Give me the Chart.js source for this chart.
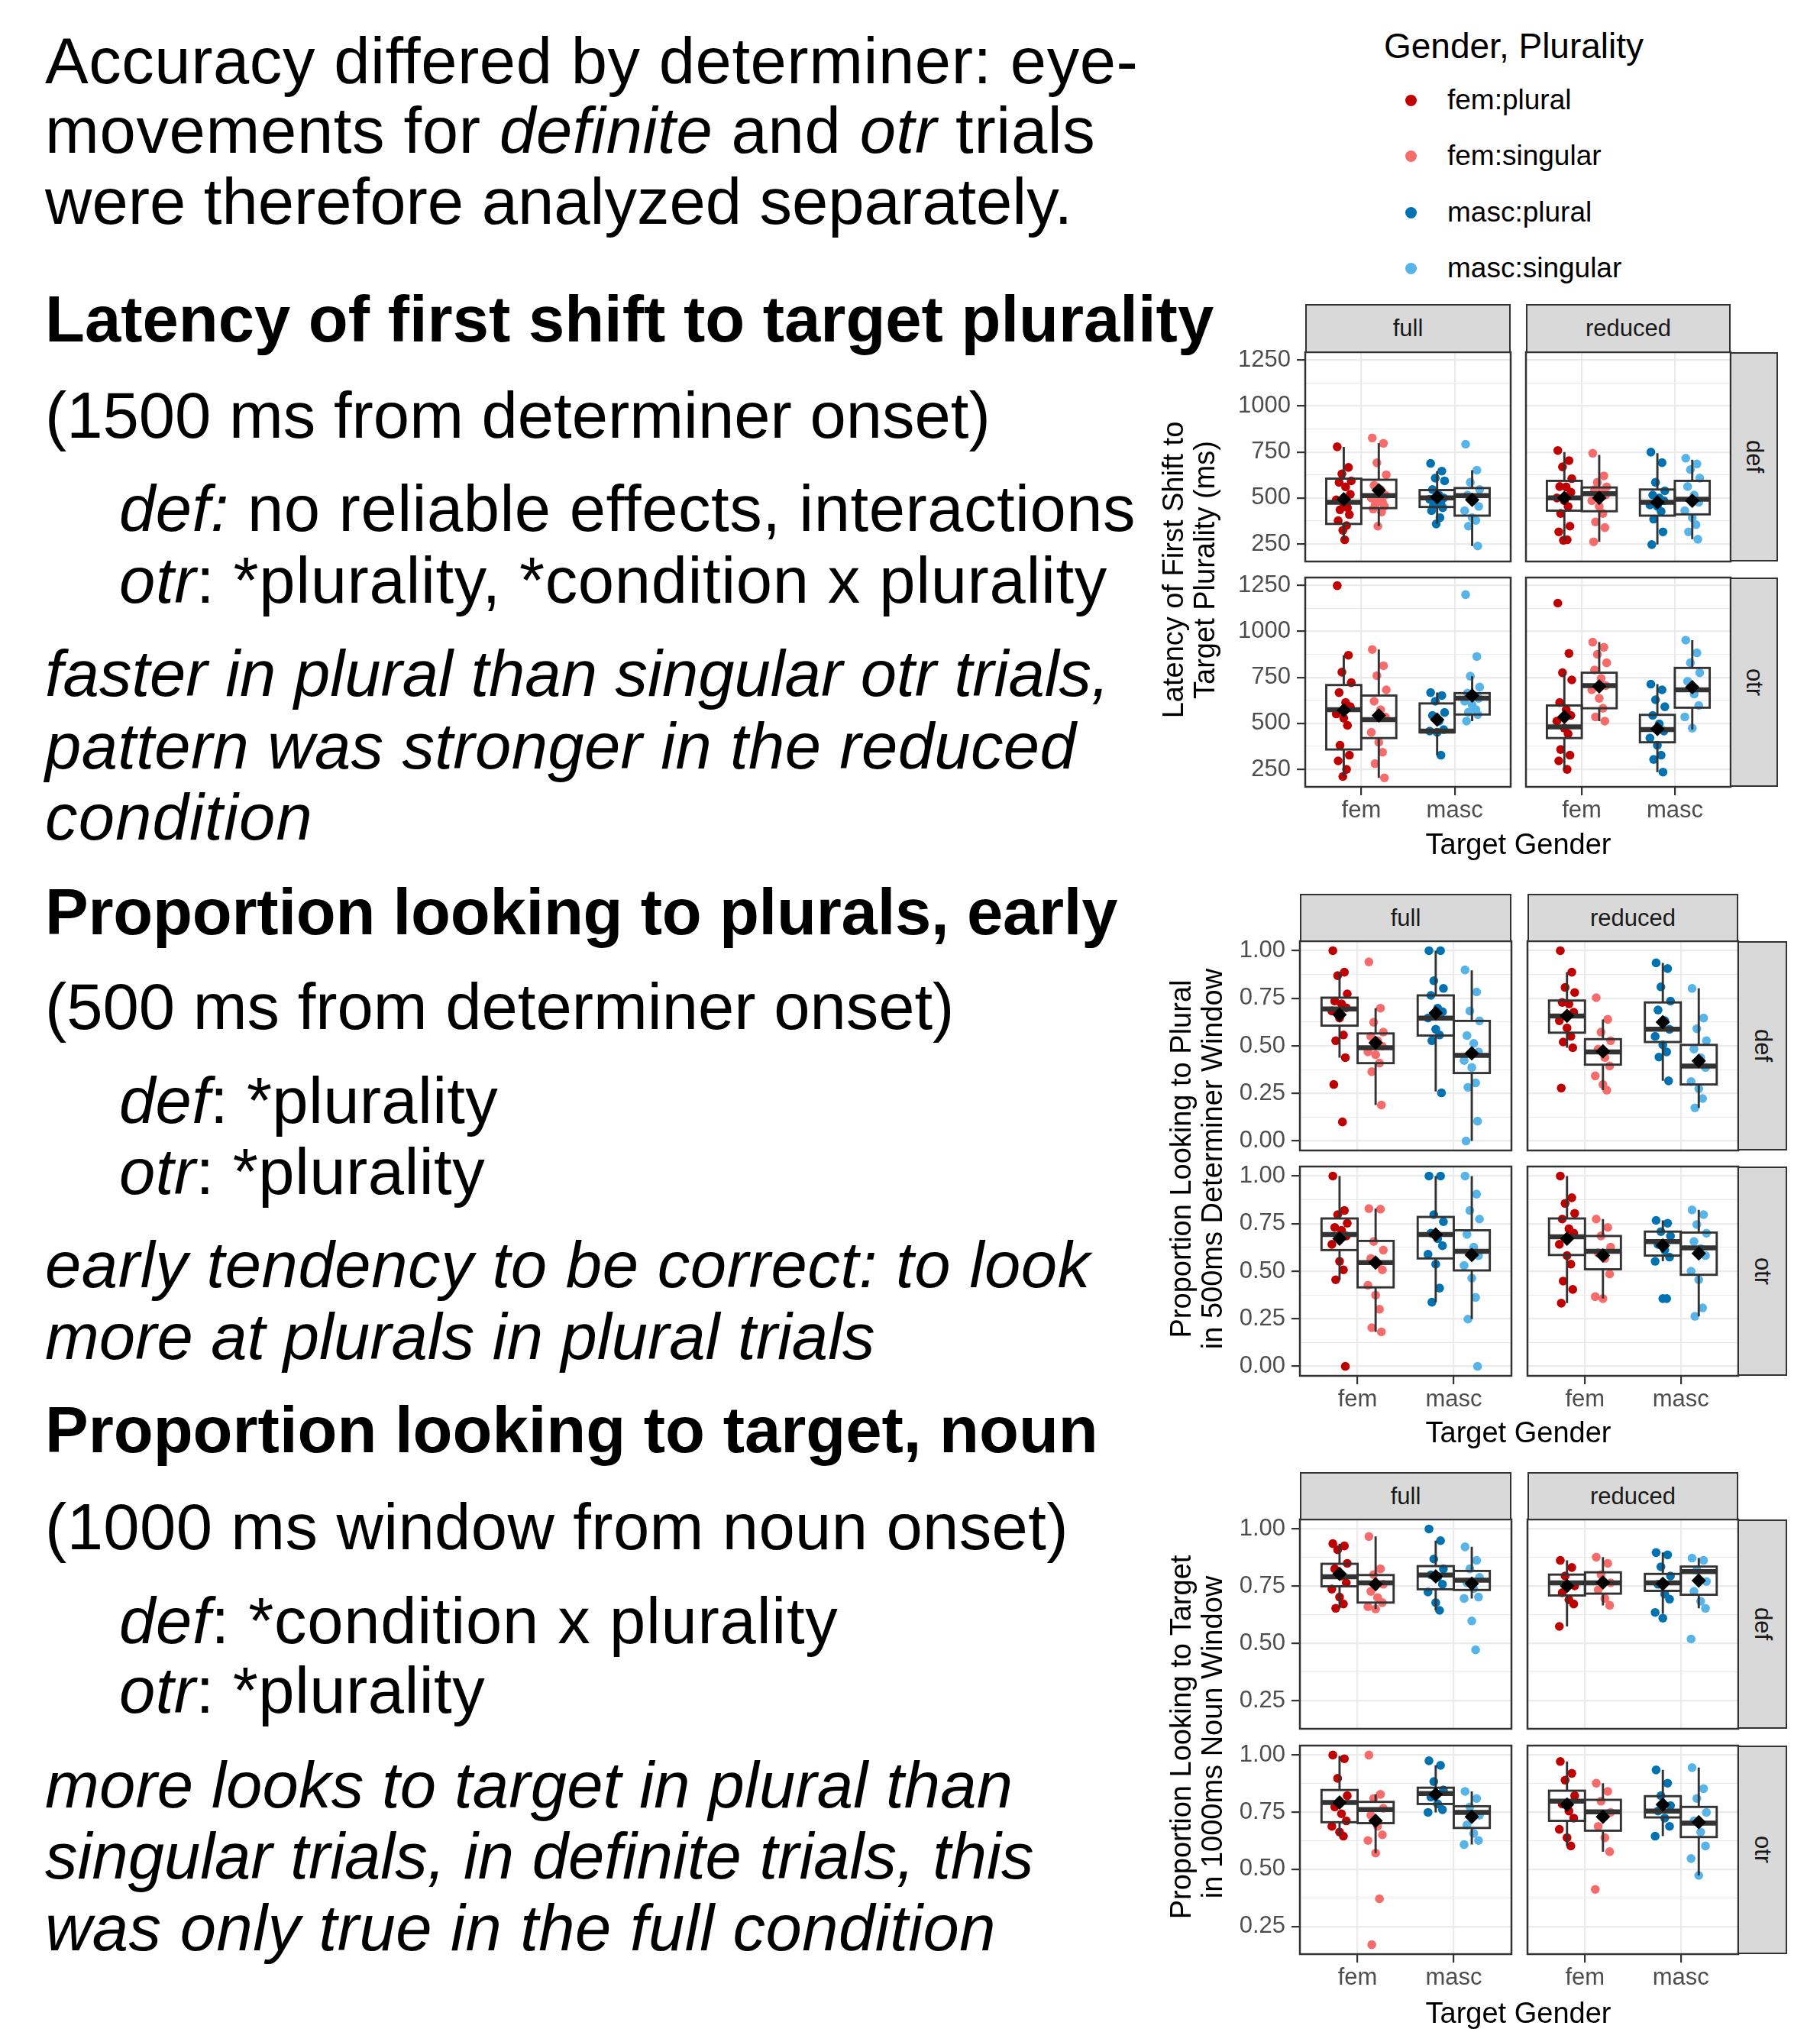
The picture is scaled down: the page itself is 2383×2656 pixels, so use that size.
<!DOCTYPE html>
<html>
<head>
<meta charset="utf-8">
<script src="https://cdn.jsdelivr.net/npm/chart.js@4.4.1/dist/chart.umd.min.js"></script>
<style>
html, body { margin: 0; padding: 0; background: #fff; }
body { width: 2383px; height: 2656px; position: relative; overflow: hidden; font-family: "Liberation Sans", Arial, sans-serif; }
.t { position: absolute; white-space: nowrap; font-size: 85px; line-height: 100px; height: 100px; color: #000; }
.b { font-weight: bold; }
.i { font-style: italic; }
canvas { position: absolute; }
.strip { position: absolute; box-sizing: border-box; background: #d9d9d9; border: 2.5px solid #333; color: #1a1a1a; font-size: 31px; display: flex; align-items: center; justify-content: center; }
.strip.v span { writing-mode: vertical-rl; }
.ytitle { position: absolute; width: 700px; height: 84px; font-size: 38px; line-height: 41px; text-align: center; transform: rotate(-90deg); color: #000; }
.xtitle { position: absolute; width: 600px; height: 50px; font-size: 38px; line-height: 50px; text-align: center; color: #000; }
.leg { position: absolute; white-space: nowrap; color: #000; }
.dot { position: absolute; width: 15px; height: 15px; border-radius: 50%; }
</style>
</head>
<body>

<!-- data-r: right edge of the line in the reference (shrunk 1407px view) -->
<div class="t" data-r="880" style="left:59px;top:30px">Accuracy differed by determiner: eye-</div>
<div class="t" data-r="847" style="left:59px;top:121px">movements for <i>definite</i> and <i>otr</i> trials</div>
<div class="t" style="left:59px;top:214px">were therefore analyzed separately.</div>

<div class="t b" style="left:59px;top:368px">Latency of first shift to target plurality</div>
<div class="t" style="left:59px;top:494px">(1500 ms from determiner onset)</div>
<div class="t" data-r="878" style="left:156px;top:616px"><i>def:</i> no reliable effects, interactions</div>
<div class="t" data-r="856" style="left:156px;top:710px"><i>otr</i>: *plurality, *condition x plurality</div>
<div class="t i" style="left:59px;top:832px">faster in plural than singular otr trials,</div>
<div class="t i" data-r="832" style="left:59px;top:927px">pattern was stronger in the reduced</div>
<div class="t i" data-r="242" style="left:59px;top:1020px">condition</div>

<div class="t b" data-r="864" style="left:59px;top:1144px">Proportion looking to plurals, early</div>
<div class="t" style="left:59px;top:1268px">(500 ms from determiner onset)</div>
<div class="t" data-r="385" style="left:156px;top:1391px"><i>def</i>: *plurality</div>
<div class="t" data-r="375" style="left:156px;top:1484px"><i>otr</i>: *plurality</div>
<div class="t i" data-r="843" style="left:59px;top:1606px">early tendency to be correct: to look</div>
<div class="t i" style="left:59px;top:1700px">more at plurals in plural trials</div>

<div class="t b" style="left:59px;top:1822px">Proportion looking to target, noun</div>
<div class="t" data-r="826" style="left:59px;top:1949px">(1000 ms window from noun onset)</div>
<div class="t" data-r="648" style="left:156px;top:2072px"><i>def</i>: *condition x plurality</div>
<div class="t" data-r="375" style="left:156px;top:2163px"><i>otr</i>: *plurality</div>
<div class="t i" data-r="783" style="left:59px;top:2287px">more looks to target in plural than</div>
<div class="t i" style="left:59px;top:2380px">singular trials, in definite trials, this</div>
<div class="t i" data-r="770" style="left:59px;top:2474px">was only true in the full condition</div>

<script>
// categories
const genders = ['fem', 'masc'];
const groups = ['fem:plural', 'fem:singular', 'masc:plural', 'masc:singular'];
const groupColors = ['#c00000', '#f86b6b', '#0072b2', '#56b4e9'];
const conditions = ['full', 'reduced'];
const determiners = ['def', 'otr'];

// major tick labels
const latMajor = [250, 500, 750, 1000, 1250];
const earlyMajor = [0, 0.25, 0.5, 0.75, 1];
const nounMajor = [0.25, 0.5, 0.75, 1];

// --- latency of first shift (ms) ---
// points per group: fem:plural, fem:singular, masc:plural, masc:singular
// box per group: [whisker low, q1, median, q3, whisker high, mean]
const latDefFullPts = [
  [778, 666, 631, 593, 585, 560, 520, 490, 470, 447, 436, 410, 377, 350, 324, 273],
  [826, 797, 691, 626, 569, 546, 516, 500, 480, 477, 462, 455, 440, 424, 347],
  [688, 646, 608, 593, 546, 516, 500, 493, 480, 470, 460, 447, 431, 393, 359],
  [792, 651, 585, 546, 516, 485, 454, 431, 393, 378, 347, 239]
];
const latDefFullBox = [[273, 359, 477, 605, 777, 493], [347, 445, 513, 599, 797, 542], [359, 451, 500, 543, 646, 505], [239, 404, 513, 554, 651, 490]];
const latDefRedPts = [
  [758, 703, 669, 605, 562, 560, 531, 500, 485, 454, 416, 347, 316, 273, 270],
  [743, 620, 585, 560, 546, 539, 516, 485, 454, 416, 370, 339, 262],
  [749, 692, 585, 539, 516, 500, 485, 462, 454, 427, 385, 316, 247],
  [716, 685, 654, 608, 562, 516, 477, 431, 393, 355, 316, 276]
];
const latDefRedBox = [[270, 431, 500, 593, 749, 500], [262, 428, 523, 557, 734, 500], [247, 404, 477, 546, 743, 477], [276, 411, 493, 593, 708, 485]];
const latOtrFullPts = [
  [1248, 870, 778, 721, 667, 613, 590, 551, 528, 489, 381, 327, 296, 250, 211],
  [901, 813, 759, 682, 620, 574, 535, 451, 397, 343, 281, 204],
  [667, 651, 620, 559, 543, 512, 466, 458, 451, 327],
  [1199, 863, 756, 697, 664, 650, 636, 620, 600, 575, 560, 548, 512]
];
const latOtrFullBox = [[211, 358, 574, 708, 870, 571], [204, 420, 520, 651, 901, 543], [327, 451, 458, 608, 667, 520], [512, 548, 636, 664, 756, 651]];
const latOtrRedPts = [
  [1153, 880, 775, 736, 613, 574, 543, 512, 474, 443, 358, 327, 296, 250],
  [941, 913, 875, 829, 790, 744, 705, 682, 636, 582, 535, 512],
  [713, 682, 628, 590, 543, 497, 458, 420, 381, 327, 304, 235],
  [952, 883, 829, 775, 728, 659, 597, 535, 474]
];
const latOtrRedBox = [[250, 420, 481, 597, 775, 535], [512, 582, 705, 775, 941, 701], [235, 397, 466, 546, 713, 469], [466, 585, 682, 801, 952, 697]];

// --- proportion looking to plural, 500ms determiner window ---
const earlyDefFullPts = [
  [1.0, 0.887, 0.869, 0.773, 0.735, 0.721, 0.70, 0.683, 0.646, 0.557, 0.527, 0.438, 0.297, 0.10],
  [0.941, 0.698, 0.624, 0.572, 0.55, 0.527, 0.498, 0.468, 0.453, 0.409, 0.364, 0.189],
  [1.0, 1.0, 0.842, 0.802, 0.765, 0.698, 0.679, 0.646, 0.587, 0.557, 0.527, 0.253],
  [0.899, 0.783, 0.683, 0.631, 0.554, 0.513, 0.468, 0.423, 0.386, 0.305, 0.282, 0.104, 0.0]
];
const earlyDefFullBox = [[0.438, 0.606, 0.694, 0.753, 0.887, 0.664], [0.189, 0.409, 0.490, 0.565, 0.698, 0.516], [0.26, 0.554, 0.646, 0.765, 1.0, 0.673], [0.0, 0.357, 0.450, 0.631, 0.896, 0.461]];
const earlyDefRedPts = [
  [1.0, 0.887, 0.807, 0.78, 0.728, 0.72, 0.676, 0.632, 0.594, 0.55, 0.52, 0.49, 0.278],
  [0.753, 0.639, 0.572, 0.527, 0.483, 0.438, 0.394, 0.342, 0.297, 0.267],
  [0.936, 0.906, 0.81, 0.735, 0.688, 0.632, 0.587, 0.55, 0.505, 0.468, 0.441, 0.316],
  [0.802, 0.646, 0.59, 0.527, 0.483, 0.438, 0.386, 0.312, 0.275, 0.223, 0.174]
];
const earlyDefRedBox = [[0.49, 0.569, 0.657, 0.738, 0.887, 0.658], [0.267, 0.401, 0.468, 0.535, 0.639, 0.471], [0.316, 0.520, 0.587, 0.728, 0.936, 0.624], [0.174, 0.297, 0.394, 0.505, 0.802, 0.421]];
const earlyOtrFullPts = [
  [1.0, 0.819, 0.797, 0.752, 0.730, 0.715, 0.685, 0.641, 0.552, 0.507, 0.455, 0.0],
  [0.829, 0.826, 0.656, 0.611, 0.567, 0.537, 0.507, 0.426, 0.374, 0.30, 0.203, 0.181],
  [1.0, 1.0, 0.797, 0.76, 0.70, 0.671, 0.634, 0.589, 0.537, 0.411, 0.337],
  [1.0, 0.905, 0.819, 0.774, 0.693, 0.626, 0.582, 0.53, 0.463, 0.362, 0.248, 0.0]
];
const earlyOtrFullBox = [[0.455, 0.611, 0.693, 0.777, 1.0, 0.671], [0.181, 0.415, 0.545, 0.659, 0.829, 0.545], [0.337, 0.567, 0.693, 0.785, 1.0, 0.693], [0.248, 0.504, 0.604, 0.715, 1.0, 0.585]];
const earlyOtrRedPts = [
  [1.0, 0.886, 0.856, 0.804, 0.774, 0.723, 0.70, 0.641, 0.582, 0.537, 0.448, 0.404, 0.332],
  [0.774, 0.73, 0.685, 0.626, 0.596, 0.567, 0.485, 0.366, 0.356],
  [0.767, 0.752, 0.708, 0.685, 0.641, 0.611, 0.574, 0.552, 0.356, 0.356],
  [0.822, 0.797, 0.745, 0.70, 0.656, 0.619, 0.582, 0.50, 0.455, 0.307, 0.263]
];
const earlyOtrRedBox = [[0.332, 0.585, 0.681, 0.777, 1.0, 0.671], [0.356, 0.510, 0.604, 0.685, 0.774, 0.582], [0.552, 0.582, 0.656, 0.708, 0.767, 0.634], [0.263, 0.481, 0.622, 0.703, 0.822, 0.593]];

// --- proportion looking to target, 1000ms noun window ---
const nounDefFullPts = [
  [0.936, 0.926, 0.909, 0.85, 0.826, 0.795, 0.765, 0.738, 0.703, 0.673, 0.654],
  [0.967, 0.826, 0.801, 0.759, 0.728, 0.701, 0.679, 0.661, 0.651],
  [1.0, 0.949, 0.869, 0.826, 0.80, 0.789, 0.759, 0.725, 0.679, 0.645],
  [0.922, 0.863, 0.826, 0.789, 0.765, 0.74, 0.703, 0.697, 0.599, 0.473]
];
const nounDefFullBox = [[0.654, 0.750, 0.792, 0.848, 0.936, 0.804], [0.651, 0.679, 0.765, 0.799, 0.967, 0.759], [0.645, 0.737, 0.799, 0.838, 0.949, 0.793], [0.697, 0.734, 0.777, 0.817, 0.922, 0.762]];
const nounDefRedPts = [
  [0.863, 0.832, 0.795, 0.752, 0.722, 0.691, 0.673, 0.575],
  [0.877, 0.85, 0.801, 0.765, 0.734, 0.697, 0.667],
  [0.897, 0.887, 0.835, 0.795, 0.759, 0.716, 0.694, 0.636, 0.611],
  [0.873, 0.863, 0.82, 0.771, 0.728, 0.685, 0.654, 0.52]
];
const nounDefRedBox = [[0.575, 0.710, 0.765, 0.801, 0.863, 0.752], [0.667, 0.718, 0.765, 0.811, 0.877, 0.767], [0.630, 0.730, 0.765, 0.804, 0.897, 0.761], [0.654, 0.713, 0.814, 0.836, 0.873, 0.775]];
const nounOtrFullPts = [
  [1.0, 0.984, 0.898, 0.822, 0.773, 0.743, 0.712, 0.688, 0.663, 0.645],
  [1.0, 0.828, 0.81, 0.767, 0.737, 0.688, 0.651, 0.626, 0.571, 0.371, 0.17],
  [0.975, 0.955, 0.884, 0.847, 0.816, 0.786, 0.761, 0.749],
  [0.841, 0.81, 0.773, 0.737, 0.694, 0.657, 0.626, 0.608]
];
const nounOtrFullBox = [[0.645, 0.706, 0.792, 0.847, 0.996, 0.792], [0.571, 0.702, 0.761, 0.795, 0.828, 0.712], [0.749, 0.786, 0.832, 0.857, 0.955, 0.828], [0.608, 0.681, 0.749, 0.776, 0.841, 0.730]];
const nounOtrRedPts = [
  [0.972, 0.92, 0.89, 0.822, 0.786, 0.755, 0.724, 0.675, 0.638, 0.602],
  [0.877, 0.841, 0.798, 0.749, 0.688, 0.638, 0.577, 0.412],
  [0.935, 0.877, 0.822, 0.779, 0.755, 0.724, 0.688, 0.645],
  [0.945, 0.853, 0.81, 0.749, 0.712, 0.663, 0.602, 0.547, 0.473]
];
const nounOtrRedBox = [[0.602, 0.712, 0.798, 0.844, 0.972, 0.783], [0.577, 0.669, 0.751, 0.804, 0.877, 0.730], [0.645, 0.727, 0.755, 0.820, 0.935, 0.783], [0.473, 0.641, 0.702, 0.773, 0.945, 0.706]];

// layout of the three faceted plots
const plots = [
  {
    yMin: 155, yMax: 1292, major: latMajor, fmt: v => String(v),
    cols: [[1709, 1978], [1998, 2266]], rows: [[461, 735], [756, 1030]],
    stripTop: 398, stripRight: 2328,
    yTitle: 'Latency of First Shift to<br>Target Plurality (ms)', yTitleX: 1558, xTitleY: 1105,
    facets: [[latDefFullPts, latDefFullBox], [latDefRedPts, latDefRedBox], [latOtrFullPts, latOtrFullBox], [latOtrRedPts, latOtrRedBox]]
  },
  {
    yMin: -0.05, yMax: 1.05, major: earlyMajor, fmt: v => v.toFixed(2),
    cols: [[1702, 1979], [2000, 2276]], rows: [[1232, 1506], [1527, 1801]],
    stripTop: 1170, stripRight: 2340,
    yTitle: 'Proportion Looking to Plural<br>in 500ms Determiner Window', yTitleX: 1568, xTitleY: 1875,
    facets: [[earlyDefFullPts, earlyDefFullBox], [earlyDefRedPts, earlyDefRedBox], [earlyOtrFullPts, earlyOtrFullBox], [earlyOtrRedPts, earlyOtrRedBox]]
  },
  {
    yMin: 0.1285, yMax: 1.0415, major: nounMajor, fmt: v => v.toFixed(2),
    cols: [[1702, 1979], [2000, 2276]], rows: [[1989, 2263], [2285, 2558]],
    stripTop: 1927, stripRight: 2340,
    yTitle: 'Proportion Looking to Target<br>in 1000ms Noun Window', yTitleX: 1568, xTitleY: 2635,
    facets: [[nounDefFullPts, nounDefFullBox], [nounDefRedPts, nounDefRedBox], [nounOtrFullPts, nounOtrFullBox], [nounOtrRedPts, nounOtrRedBox]]
  }
];

const FONT = '"Liberation Sans", Arial, sans-serif';
const PAD = 24;
const HALF = 0.1875; // half of the dodge width
const JIT = [-0.07, 0.05, -0.02, 0.08, -0.05, 0.02, 0.07, -0.08, 0.0, 0.04, -0.04, 0.06, -0.06, 0.03, -0.01, 0.01];

function groupX(g) {
  return (g < 2 ? 1 : 2) + (g % 2 === 0 ? -HALF : HALF);
}

// boxes go between the points and the mean diamonds, panel border on top
const boxPlugin = {
  id: 'boxes',
  beforeDatasetDraw(chart, args) {
    if (args.index !== 0) return;
    const stats = chart.data.datasets[0].stats;
    const { ctx, scales: { x, y } } = chart;
    ctx.save();
    ctx.strokeStyle = '#333333';
    stats.forEach((s, g) => {
      const cx = groupX(g);
      const xl = x.getPixelForValue(cx - HALF);
      const xr = x.getPixelForValue(cx + HALF);
      const xc = x.getPixelForValue(cx);
      const [lo, q1, med, q3, hi] = s.slice(0, 5).map(v => y.getPixelForValue(v));
      ctx.lineWidth = 2.9;
      ctx.beginPath();
      ctx.moveTo(xc, q3); ctx.lineTo(xc, hi);
      ctx.moveTo(xc, q1); ctx.lineTo(xc, lo);
      ctx.stroke();
      ctx.strokeRect(xl, q3, xr - xl, q1 - q3);
      ctx.lineWidth = 6.5;
      ctx.beginPath();
      ctx.moveTo(xl, med); ctx.lineTo(xr, med);
      ctx.stroke();
    });
    ctx.restore();
  },
  afterDraw(chart) {
    const a = chart.chartArea;
    const ctx = chart.ctx;
    ctx.save();
    ctx.strokeStyle = '#333333';
    ctx.lineWidth = 2.5;
    ctx.strokeRect(a.left, a.top, a.right - a.left, a.bottom - a.top);
    ctx.restore();
  }
};

function makePanel(plot, r, c) {
  const [x0, x1] = plot.cols[c];
  const [y0, y1] = plot.rows[r];
  const showY = c === 0, showX = r === 1;
  const LW = showY ? 120 : 0, BH = showX ? 60 : 0;
  const cv = document.createElement('canvas');
  cv.width = x1 - x0 + LW + 2 * PAD;
  cv.height = y1 - y0 + BH + 2 * PAD;
  cv.style.left = (x0 - LW - PAD) + 'px';
  cv.style.top = (y0 - PAD) + 'px';
  document.body.appendChild(cv);

  const [pts, box] = plot.facets[r * 2 + c];
  const major = plot.major;
  const allTicks = [];
  major.forEach((v, i) => {
    allTicks.push(v);
    if (i < major.length - 1) allTicks.push((v + major[i + 1]) / 2);
  });
  const isMajor = v => major.includes(v);

  const datasets = [{
    label: 'mean',
    stats: box,
    data: box.map((s, g) => ({ x: groupX(g), y: s[5] })),
    pointStyle: 'rectRot',
    pointRadius: 9.5,
    backgroundColor: '#000',
    borderWidth: 0
  }];
  pts.forEach((vals, g) => {
    datasets.push({
      label: groups[g],
      data: vals.map((v, i) => ({ x: groupX(g) + JIT[i % JIT.length], y: v })),
      backgroundColor: groupColors[g],
      pointRadius: 5.8,
      borderWidth: 0
    });
  });

  new Chart(cv, {
    type: 'scatter',
    data: { datasets },
    options: {
      responsive: false,
      animation: false,
      events: [],
      layout: { padding: PAD },
      plugins: { legend: { display: false }, tooltip: { enabled: false } },
      scales: {
        x: {
          type: 'linear', min: 0.4, max: 2.6,
          afterBuildTicks: s => { s.ticks = [{ value: 1 }, { value: 2 }]; },
          afterFit: s => { s.height = BH; s.paddingLeft = 0; s.paddingRight = 0; },
          ticks: {
            display: showX, autoSkip: false, maxRotation: 0, padding: 2,
            callback: v => genders[v - 1],
            color: '#4d4d4d', font: { family: FONT, size: 31 }
          },
          grid: { color: '#ebebeb', lineWidth: 2.2, drawTicks: showX, tickLength: 11, tickColor: '#333333', tickWidth: 2.2 },
          border: { display: false }
        },
        y: {
          type: 'linear', min: plot.yMin, max: plot.yMax,
          afterBuildTicks: s => { s.ticks = allTicks.map(v => ({ value: v })); },
          afterFit: s => { s.width = LW; s.paddingTop = 0; s.paddingBottom = 0; },
          ticks: {
            display: showY, autoSkip: false, padding: 8,
            callback: v => isMajor(v) ? plot.fmt(v) : '',
            color: '#4d4d4d', font: { family: FONT, size: 31 }
          },
          grid: {
            color: '#ebebeb',
            lineWidth: ctx => isMajor(ctx.tick.value) ? 2.2 : 1.1,
            drawTicks: showY, tickLength: 11,
            tickColor: ctx => isMajor(ctx.tick.value) ? '#333333' : 'rgba(0,0,0,0)',
            tickWidth: 2.2
          },
          border: { display: false }
        }
      }
    },
    plugins: [boxPlugin]
  });
}

function addDiv(cls, style, html) {
  const d = document.createElement('div');
  d.className = cls;
  Object.assign(d.style, style);
  d.innerHTML = html;
  document.body.appendChild(d);
  return d;
}

plots.forEach(plot => {
  for (let r = 0; r < 2; r++) for (let c = 0; c < 2; c++) makePanel(plot, r, c);
  // facet strips
  plot.cols.forEach(([x0, x1], c) => {
    addDiv('strip', { left: x0 + 'px', top: plot.stripTop + 'px', width: (x1 - x0) + 'px', height: (plot.rows[0][0] - plot.stripTop + 1) + 'px' }, conditions[c]);
  });
  const xr = plot.cols[1][1];
  plot.rows.forEach(([y0, y1], r) => {
    addDiv('strip v', { left: (xr - 1) + 'px', top: y0 + 'px', width: (plot.stripRight - xr + 1) + 'px', height: (y1 - y0) + 'px' }, '<span>' + determiners[r] + '</span>');
  });
  const yc = (plot.rows[0][0] + plot.rows[1][1]) / 2;
  addDiv('ytitle', { left: (plot.yTitleX - 350) + 'px', top: (yc - 42) + 'px' }, plot.yTitle);
  addDiv('xtitle', { left: (1988 - 300) + 'px', top: (plot.xTitleY - 25) + 'px' }, 'Target Gender');
});

// shared legend
addDiv('leg', { left: '1812px', top: '30px', fontSize: '46px', lineHeight: '60px' }, 'Gender, Plurality');
[131, 204, 278, 351].forEach((yy, g) => {
  addDiv('dot', { left: '1840px', top: (yy - 7.5) + 'px', background: groupColors[g] }, '');
  addDiv('leg', { left: '1895px', top: (yy - 25) + 'px', fontSize: '37px', lineHeight: '50px' }, groups[g]);
});

// stretch a few text lines so they end where the reference lines end
document.querySelectorAll('.t[data-r]').forEach(el => {
  const target = +el.dataset.r * 2383 / 1407 - el.offsetLeft;
  const w = el.getBoundingClientRect().width;
  el.style.letterSpacing = ((target - w) / el.textContent.length) + 'px';
});
</script>
</body>
</html>
